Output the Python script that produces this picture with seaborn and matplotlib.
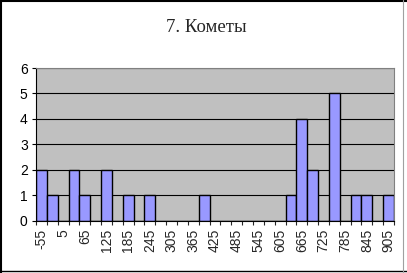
import pandas as pd
import numpy as np
import seaborn as sns
import matplotlib.pyplot as plt
from matplotlib.lines import Line2D

# Значения: центры интервалов (шаг 30) и число комет
bins = [-55, -25, 5, 35, 65, 95, 125, 155, 185, 215, 245, 275, 305, 335, 365,
        395, 425, 455, 485, 515, 545, 575, 605, 635, 665, 695, 725, 755, 785,
        815, 845, 875, 905]
counts = [2, 1, 0, 2, 1, 0, 2, 0, 1, 0, 1, 0, 0, 0, 0,
          1, 0, 0, 0, 0, 0, 0, 0, 1, 4, 2, 0, 5, 0,
          1, 1, 0, 1]
title = "7. Кометы"

df = pd.DataFrame({'bin': [str(b) for b in bins], 'n': counts})

sns.set_style("white")
plt.rcParams['font.family'] = ['Liberation Sans', 'DejaVu Sans']

fig = plt.figure(figsize=(4.07, 2.73), dpi=100)
ax = fig.add_axes([36 / 407, 1 - 220.5 / 273, (394 - 36) / 407, (220.5 - 68) / 273])
ax.set_facecolor('#C0C0C0')
ax.set_axisbelow(True)
ax.yaxis.grid(True, color='black', linewidth=0.8)

sns.barplot(data=df, x='bin', y='n', order=df['bin'], color='#9999FF',
            saturation=1, width=1.0, edgecolor='black', linewidth=1.0, ax=ax)

ax.set_xlim(-0.5, len(bins) - 0.5)
ax.set_ylim(0, 6)
ax.set_yticks(range(0, 7))
ax.tick_params(axis='y', labelsize=10, length=3, width=0.8, direction='out',
               left=True, pad=3, colors='black')
ax.set_xticks(range(0, len(bins), 2))
ax.set_xticklabels([str(b) for b in bins[::2]], rotation=90)
ax.set_xticks(np.arange(-0.5, len(bins), 1), minor=True)
ax.tick_params(axis='x', which='major', labelsize=10, length=0, pad=6)
ax.tick_params(axis='x', which='minor', length=3, width=0.8, direction='out', bottom=True)
ax.set_xlabel('')
ax.set_ylabel('')

for side in ['top', 'right']:
    ax.spines[side].set_color('#808080')
    ax.spines[side].set_linewidth(0.8)
ax.spines['left'].set_color('black')
ax.spines['bottom'].set_color('black')
ax.spines['left'].set_linewidth(0.8)
ax.spines['bottom'].set_linewidth(0.8)

fig.text(206 / 407, 1 - 28 / 273, title, ha='center', va='center', fontsize=13.5,
         family=['Liberation Serif', 'DejaVu Serif'])

# рамка рисунка
fig.add_artist(Line2D([0.002, 0.002], [0, 1], color='black', linewidth=1.5))
fig.add_artist(Line2D([0, 1], [0.998, 0.998], color='black', linewidth=1.5))
fig.add_artist(Line2D([0, 1], [0.006, 0.006], color='black', linewidth=1.0))
fig.add_artist(Line2D([403 / 407, 403 / 407], [0, 1], color='#A0A0A0', linewidth=0.8))

fig.savefig('out.png', dpi=100)
